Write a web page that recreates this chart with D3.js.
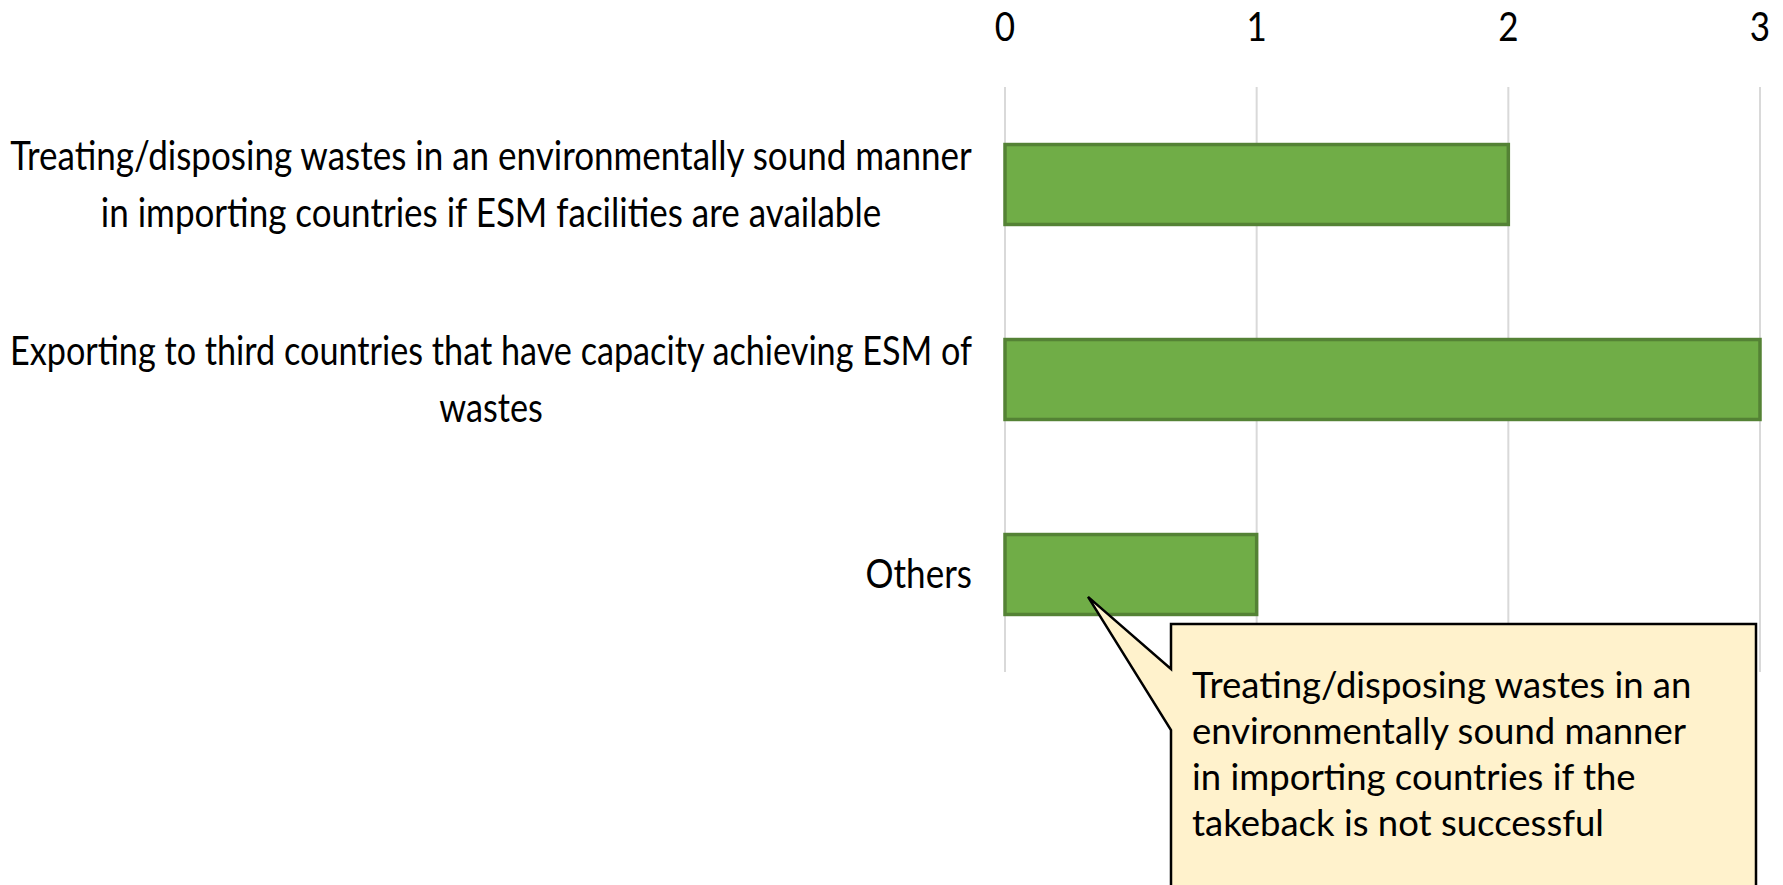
<!DOCTYPE html>
<html>
<head>
<meta charset="utf-8">
<script src="https://cdn.jsdelivr.net/npm/d3@7"></script>
<style>
  html, body { margin: 0; padding: 0; background: #ffffff; }
  svg { display: block; }
  text { font-family: Lato, "Open Sans", sans-serif; fill: #000; }
</style>
</head>
<body>
<svg id="chart" width="1783" height="885"></svg>
<script>
// Category labels, one entry per wrapped line
const categoryLines = [
  ["Treating/disposing wastes in an environmentally sound manner",
   "in importing countries if ESM facilities are available"],
  ["Exporting to third countries that have capacity achieving ESM of",
   "wastes"],
  ["Others"]
];
const categoryKeys = ["esm-importing", "third-countries", "others"];
const values = [2, 3, 1];
const tickValues = [0, 1, 2, 3];
const calloutLines = [
  "Treating/disposing wastes in an",
  "environmentally sound manner",
  "in importing countries if the",
  "takeback is not successful"
];

const W = 1783, H = 885;
const plot = { left: 1005, right: 1760, top: 87, bottom: 672 };
const labelLeft = 10;         // left limit of the category label column
const labelRight = 972;       // right edge of the category label column
const axisFont = 41;          // category and tick label size
const axisSqueeze = 0.855;    // horizontal condensing of axis text
const axisLineGap = 57;
const calloutFont = 36.5;
const calloutLineGap = 46;

const svg = d3.select("#chart");

const x = d3.scaleLinear().domain([0, 3]).range([plot.left, plot.right]);
const y = d3.scaleBand()
  .domain(categoryKeys)
  .range([plot.top, plot.bottom])
  .paddingInner(0.59)
  .paddingOuter(0.295);

// Vertical gridlines
svg.append("g")
  .selectAll("line")
  .data(tickValues)
  .join("line")
  .attr("x1", d => x(d)).attr("x2", d => x(d))
  .attr("y1", plot.top).attr("y2", plot.bottom)
  .attr("stroke", "#d9d9d9")
  .attr("stroke-width", 2);

// Top value axis labels
const tickG = svg.append("g");
tickValues.forEach(v => {
  tickG.append("text")
    .attr("transform", `translate(${x(v)},41) scale(${axisSqueeze},1)`)
    .attr("text-anchor", "middle")
    .attr("font-size", axisFont)
    .text(d3.format("d")(v));
});

// Bars
svg.append("g")
  .selectAll("rect")
  .data(values)
  .join("rect")
  .attr("x", x(0))
  .attr("y", (d, i) => y(categoryKeys[i]))
  .attr("width", d => x(d) - x(0))
  .attr("height", y.bandwidth())
  .attr("fill", "#70ad47")
  .attr("stroke", "#548235")
  .attr("stroke-width", 3.5);

// Category labels: wrapped lines centred on each other, block right-aligned,
// condensed further when the widest line would overrun the label column
categoryLines.forEach((lines, i) => {
  const cy = y(categoryKeys[i]) + y.bandwidth() / 2;
  const g = svg.append("g");
  const texts = lines.map((ln, j) => g.append("text")
    .attr("font-size", axisFont)
    .attr("text-anchor", "middle")
    .attr("y", (j - (lines.length - 1) / 2) * axisLineGap + axisFont * 0.33)
    .text(ln));
  const maxW = d3.max(texts, t => t.node().getComputedTextLength());
  const sx = Math.min(axisSqueeze, (labelRight - labelLeft) / maxW);
  g.attr("transform", `translate(${labelRight},${cy}) scale(${sx},1)`);
  texts.forEach(t => t.attr("x", -maxW / 2));
});

// Callout pointing at the "Others" bar
const box = { x: 1171, y: 624, w: 585, h: 300 };
const tip = [x(values[2] * 0.33), y("others") + y.bandwidth() * 0.78];
const calloutPath = d3.path();
calloutPath.moveTo(box.x, box.y);
calloutPath.lineTo(box.x + box.w, box.y);
calloutPath.lineTo(box.x + box.w, box.y + box.h);
calloutPath.lineTo(box.x, box.y + box.h);
calloutPath.lineTo(box.x, box.y + 106);
calloutPath.lineTo(tip[0], tip[1]);
calloutPath.lineTo(box.x, box.y + 45);
calloutPath.closePath();

svg.append("path")
  .attr("d", calloutPath.toString())
  .attr("fill", "#fff2cc")
  .attr("stroke", "#000")
  .attr("stroke-width", 2.5)
  .attr("stroke-linejoin", "miter");

const calloutText = svg.append("g");
calloutLines.forEach((ln, j) => {
  calloutText.append("text")
    .attr("x", box.x + 21)
    .attr("y", 698 + j * calloutLineGap)
    .attr("font-size", calloutFont)
    .text(ln);
});
</script>
</body>
</html>
